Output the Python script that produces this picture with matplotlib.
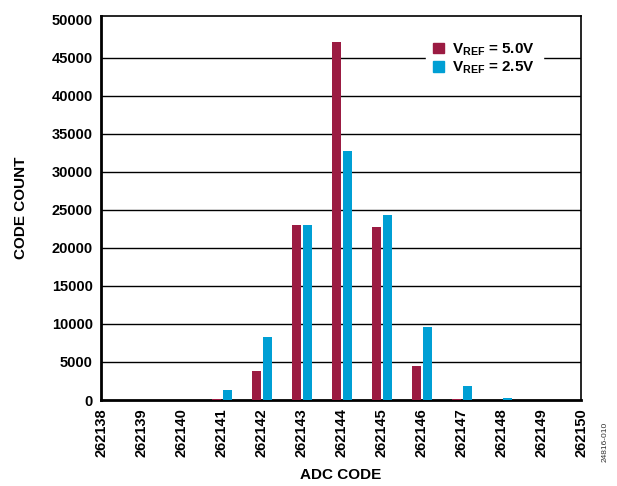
import matplotlib
matplotlib.use("Agg")
import matplotlib.pyplot as plt
from matplotlib.patches import Rectangle

plt.rcParams['font.family'] = ['Liberation Sans', 'DejaVu Sans']
plt.rcParams['font.weight'] = 'bold'
plt.rcParams['mathtext.fontset'] = 'custom'
plt.rcParams['mathtext.rm'] = 'Liberation Sans:bold'
plt.rcParams['mathtext.bf'] = 'Liberation Sans:bold'
plt.rcParams['mathtext.it'] = 'Liberation Sans:bold'

# ADC output code histogram
codes = [262138, 262139, 262140, 262141, 262142, 262143, 262144,
         262145, 262146, 262147, 262148, 262149, 262150]
count_vref_5v0 = [0, 0, 0, 80, 3780, 23000, 47100, 22700, 4470, 80, 0, 0, 0]
count_vref_2v5 = [0, 50, 60, 1320, 8250, 23000, 32700, 24300, 9570, 1840, 220, 0, 0]
y_ticks = [0, 5000, 10000, 15000, 20000, 25000, 30000, 35000, 40000, 45000, 50000]

RED = '#9B1B42'
BLUE = '#009FD4'

fig = plt.figure(figsize=(6.17, 4.86), dpi=100)
ax = fig.add_axes([101 / 617, 1 - 400 / 486, 480 / 617, 384 / 486])

bw = 0.23
ax.bar([c - bw for c in codes], count_vref_5v0, width=bw, align='edge',
       color=RED, zorder=3)
ax.bar([c + 0.05 for c in codes], count_vref_2v5, width=bw, align='edge',
       color=BLUE, zorder=3)

ax.set_xlim(codes[0], codes[-1])
ax.set_ylim(0, 50500)
ax.set_xticks(codes)
ax.set_xticklabels([str(c) for c in codes], rotation=90, fontsize=10.5,
                   fontweight='bold')
ax.set_yticks(y_ticks)
ax.set_yticklabels([str(v) for v in y_ticks], fontsize=10.5, fontweight='bold')
ax.tick_params(axis='both', length=0, pad=6)

for v in y_ticks[1:-1]:
    ax.axhline(v, color='black', linewidth=1.0, zorder=1)

for side in ['left', 'bottom']:
    ax.spines[side].set_linewidth(2.0)
for side in ['top', 'right']:
    ax.spines[side].set_linewidth(1.2)

ax.set_xlabel('ADC CODE', fontsize=11, fontweight='bold', labelpad=8)
ax.set_ylabel('CODE COUNT', fontsize=11, fontweight='bold', labelpad=17)

handles = [Rectangle((0, 0), 1, 1, color=RED), Rectangle((0, 0), 1, 1, color=BLUE)]
labels = [r'$\mathbf{V_{REF}}$ = 5.0V', r'$\mathbf{V_{REF}}$ = 2.5V']
leg = ax.legend(handles, labels, loc='upper left',
                bbox_to_anchor=(418 / 617, 1 - 26 / 486),
                bbox_transform=fig.transFigure,
                frameon=True, fancybox=False, framealpha=1,
                facecolor='white', edgecolor='white',
                handlelength=0.7, handleheight=0.7, handletextpad=0.55,
                labelspacing=0.15, borderpad=0.5,
                prop={'size': 11, 'weight': 'bold'})
leg.set_zorder(5)

fig.text(605 / 617, 1 - 442 / 486, '24816-010', rotation=90, fontsize=6,
         fontweight='normal', ha='center', va='center', color='#333333')

fig.savefig('out.png', dpi=100)
